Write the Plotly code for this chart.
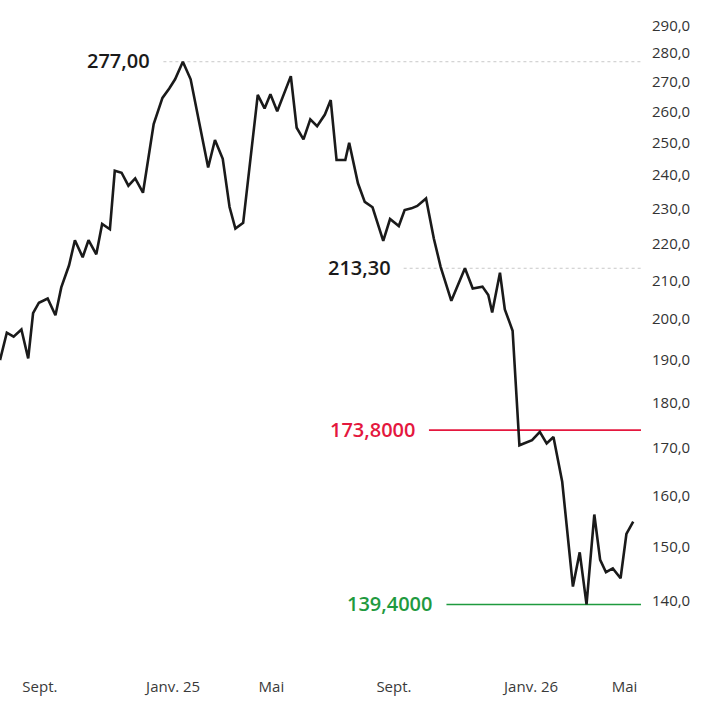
import math
import plotly.graph_objects as go

# weekly-ish closes
dates = [
    "2024-08-09", "2024-08-16", "2024-08-23", "2024-08-31", "2024-09-07", "2024-09-12",
    "2024-09-18", "2024-09-27", "2024-10-05", "2024-10-11", "2024-10-19", "2024-10-25",
    "2024-11-02", "2024-11-08", "2024-11-16", "2024-11-22", "2024-11-30", "2024-12-05",
    "2024-12-12", "2024-12-19", "2024-12-26", "2025-01-03", "2025-01-14", "2025-01-23",
    "2025-01-30", "2025-02-05", "2025-02-13", "2025-02-21", "2025-03-02", "2025-03-11",
    "2025-03-18", "2025-03-26", "2025-04-02", "2025-04-08", "2025-04-16", "2025-04-23",
    "2025-05-01", "2025-05-08", "2025-05-14", "2025-05-21", "2025-05-28", "2025-06-04",
    "2025-06-10", "2025-06-17", "2025-06-24", "2025-07-01", "2025-07-09", "2025-07-15",
    "2025-07-21", "2025-07-30", "2025-08-03", "2025-08-12", "2025-08-19", "2025-08-27",
    "2025-09-07", "2025-09-14", "2025-09-23", "2025-09-29", "2025-10-06", "2025-10-12",
    "2025-10-21", "2025-10-29", "2025-11-05", "2025-11-16", "2025-11-30", "2025-12-08",
    "2025-12-18", "2025-12-24", "2025-12-28", "2026-01-05", "2026-01-10", "2026-01-18",
    "2026-01-25", "2026-02-07", "2026-02-15", "2026-02-22", "2026-03-01", "2026-03-10",
    "2026-03-21", "2026-03-28", "2026-04-04", "2026-04-12", "2026-04-18", "2026-04-24",
    "2026-05-01", "2026-05-09", "2026-05-15", "2026-05-22",
]
prices = [
    189.9, 196.6, 195.6, 197.4, 190.3, 201.5,
    204.2, 205.3, 201.0, 208.2, 214.1, 221.0,
    216.3, 221.0, 217.1, 225.6, 224.1, 241.3,
    240.7, 236.8, 239.0, 234.7, 256.0, 264.6,
    267.8, 270.9, 277.0, 270.9, 256.2, 242.3,
    250.9, 245.0, 230.5, 224.3, 225.9, 244.6,
    265.6, 261.1, 265.8, 260.2, 266.1, 272.0,
    254.8, 251.1, 257.5, 255.3, 259.1, 263.9,
    244.6, 244.6, 250.0, 237.5, 232.0, 230.4,
    220.8, 227.0, 225.0, 229.6, 230.1, 230.8,
    233.0, 221.5, 213.7, 204.7, 213.3, 207.9,
    208.4, 206.2, 201.7, 212.1, 202.5, 197.1,
    170.5, 171.6, 173.4, 170.9, 172.3, 162.8,
    142.6, 148.9, 139.4, 156.2, 147.5, 145.2,
    145.9, 144.1, 152.4, 154.8,
]

# reference levels: value, label, colour, line colour, where the line starts
levels = [277.0, 213.3, 173.8, 139.4]
level_labels = ["277,00", "213,30", "173,8000", "139,4000"]
level_colors = ["#1a1a1a", "#1a1a1a", "#e4173e", "#1f9a3f"]
level_line_colors = ["#c8c8c8", "#c8c8c8", "#e4173e", "#1f9a3f"]
level_starts = ["2025-01-24", "2025-09-28", "2025-10-24", "2025-11-11"]

y_ticks = [140, 150, 160, 170, 180, 190, 200, 210, 220, 230, 240, 250, 260, 270, 280, 290]
x_tick_dates = ["2024-09-19", "2025-02-03", "2025-05-15", "2025-09-18", "2026-02-06", "2026-05-13"]
x_tick_labels = ["Sept.", "Janv. 25", "Mai", "Sept.", "Janv. 26", "Mai"]

x_start = "2024-08-09"
x_end = "2026-05-30"

FONT = "Open Sans"

fig = go.Figure()

fig.add_trace(go.Scatter(
    x=dates, y=prices, mode="lines",
    line=dict(color="#1a1a1a", width=2.6),
    hoverinfo="x+y", showlegend=False,
))

for val, lab, col, lcol, start in zip(levels, level_labels, level_colors, level_line_colors, level_starts):
    dotted = lcol == "#c8c8c8"
    fig.add_shape(
        type="line", xref="x", yref="y",
        x0=start, x1=x_end, y0=val, y1=val,
        line=dict(color=lcol, width=1 if dotted else 1.6, dash="dot" if dotted else "solid"),
        layer="below",
    )
    # annotations on a log axis take log10 positions
    fig.add_annotation(
        x=start, y=math.log10(val), xref="x", yref="y",
        text=lab, showarrow=False, xanchor="right", yanchor="middle",
        xshift=-11, yshift=1,
        font=dict(family=FONT, size=20, color=col, weight=600),
    )

fig.update_layout(
    width=703, height=709,
    margin=dict(l=0, r=62, t=10, b=34),
    paper_bgcolor="white", plot_bgcolor="white",
    separators=", ",
    font=dict(family=FONT, size=15, color="#333333"),
    xaxis=dict(
        type="date", range=[x_start, x_end],
        tickvals=x_tick_dates, ticktext=x_tick_labels,
        showgrid=False, zeroline=False, showline=False, ticks="",
        tickfont=dict(family=FONT, size=15, color="#3a3a3a"),
        ticklabelstandoff=1,
    ),
    yaxis=dict(
        type="log", range=[2.1055, 2.4709], side="right",
        tickvals=y_ticks, tickformat=".1f",
        showgrid=False, zeroline=False, showline=False, ticks="",
        tickfont=dict(family=FONT, size=15, color="#333333"),
        ticklabelstandoff=10,
    ),
)

fig.write_html(
    "out.html",
    config={"displayModeBar": False},
    post_script="document.body.style.margin='0';",
)
